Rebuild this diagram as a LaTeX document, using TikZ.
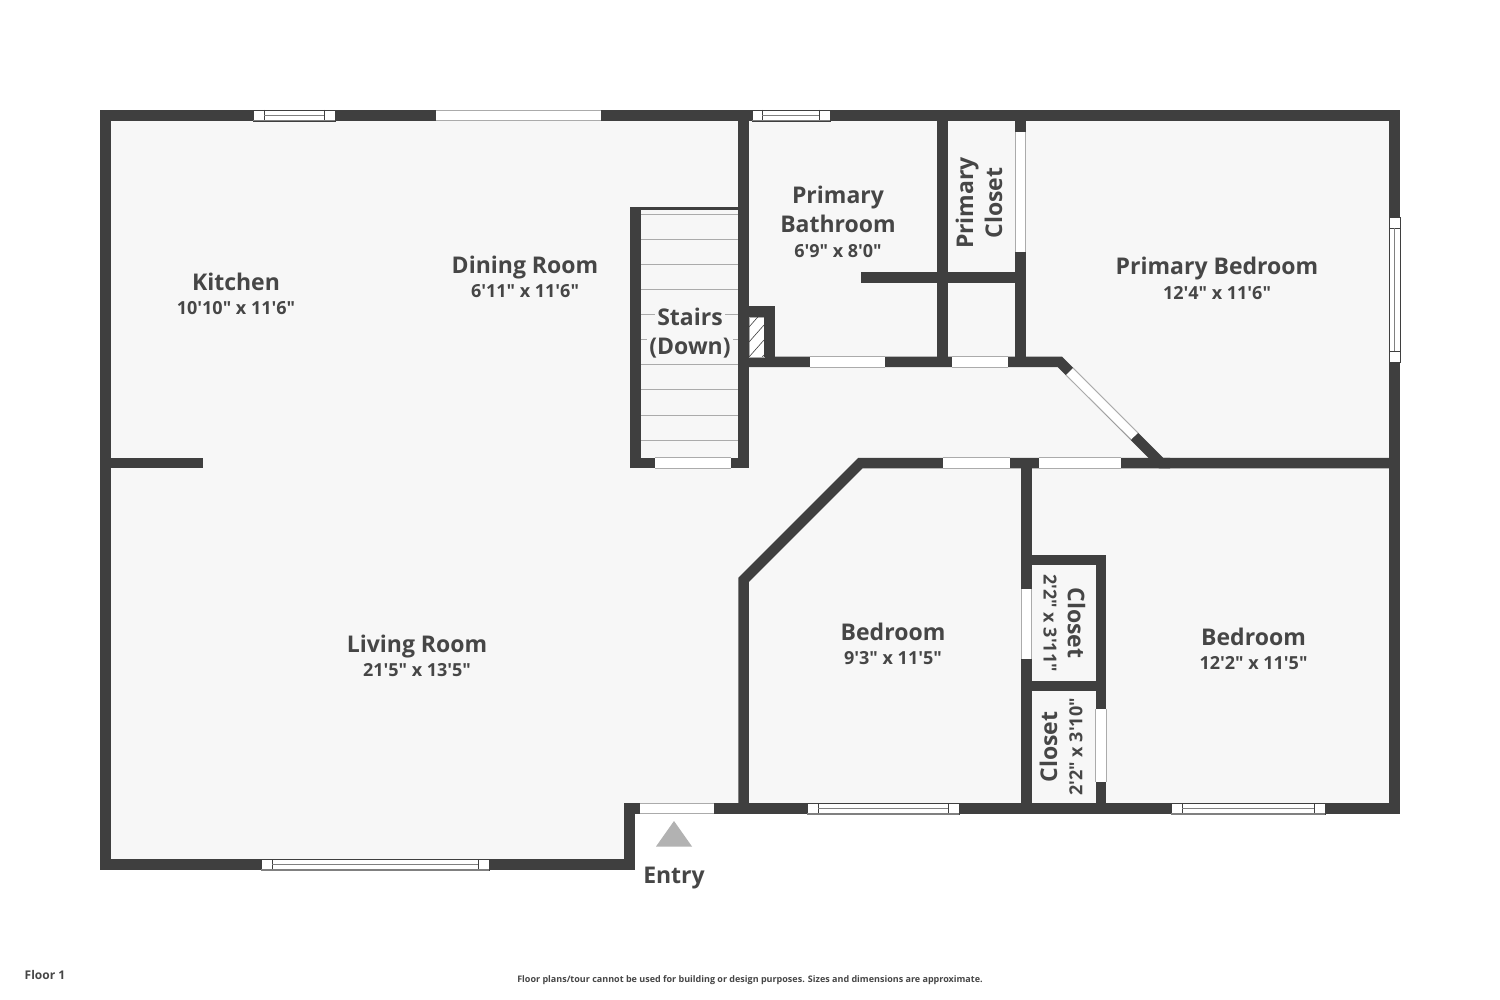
\documentclass[tikz,border=0pt]{standalone}
\usepackage{fontspec}
\newfontfamily\osans{Open Sans}
\definecolor{wallc}{HTML}{3F3F3F}
\definecolor{floorc}{HTML}{F7F7F7}
\definecolor{inkc}{HTML}{464646}
\definecolor{thinc}{HTML}{ABABAB}
\tikzset{
  wallline/.style={draw=wallc,line width=5.25pt,line join=miter,line cap=butt},
  opening/.style={fill=white,draw=none},
  openedge/.style={draw=thinc,line width=0.4pt},
  winframe/.style={draw=wallc,line width=0.45pt},
  winmid/.style={draw=gray,line width=0.5pt},
  roomname/.style={font=\osans\fontsize{11.5}{14}\selectfont\bfseries,text=inkc,inner sep=0pt,text height=8.2pt,text depth=0pt},
  roomsize/.style={font=\osans\fontsize{9}{11}\selectfont\bfseries,text=inkc,inner sep=0pt,text height=6.4pt,text depth=0pt},
  stairtread/.style={draw=thinc,line width=0.5pt},
}
\newcommand{\hdoor}[3]{% x1,x2,ycentre
  \fill[opening] (#1,#3-5.5) rectangle (#2,#3+5.5);
  \draw[openedge] (#1,#3+5.2) -- (#2,#3+5.2);
  \draw[openedge] (#1,#3-5.2) -- (#2,#3-5.2);}
\newcommand{\vdoor}[3]{% y1,y2,xcentre
  \fill[opening] (#3-5.5,#1) rectangle (#3+5.5,#2);
  \draw[openedge] (#3+5.2,#1) -- (#3+5.2,#2);
  \draw[openedge] (#3-5.2,#1) -- (#3-5.2,#2);}
\newcommand{\hwin}[5]{% x1,x2,xi1,xi2,ycentre
  \fill[opening] (#1,#5-5.5) rectangle (#2,#5+5.5);
  \draw[winframe] (#1,#5-5.5) rectangle (#2,#5+5.5);
  \draw[winframe] (#3,#5-5.5) -- (#3,#5+5.5) (#4,#5-5.5) -- (#4,#5+5.5);
  \draw[winmid] (#3,#5) -- (#4,#5);
  \draw[winmid,line width=0.8pt] (#1,#5+5.2) -- (#2,#5+5.2);}
\begin{document}
\begin{tikzpicture}[x=0.5pt,y=-0.5pt]
\useasboundingbox (0,0) rectangle (1500,1000);
\fill[white] (0,0) rectangle (1500,1000);
% floor
\fill[floorc] (105,115) -- (1395,115) -- (1395,809) -- (630,809) -- (630,865) -- (105,865) -- cycle;
% stair treads
\foreach \ty in {215,240,265,290,315,340,365,390,415,440}
  \draw[stairtread] (641,\ty) -- (739,\ty);
% outer walls
\draw[wallline] (105.5,115.5) -- (1394.5,115.5) -- (1394.5,808.5) -- (629.5,808.5) -- (629.5,864.5) -- (105.5,864.5) -- cycle;
% inner walls
\draw[wallline] (743.5,115) -- (743.5,468);
\draw[wallline] (635.5,468) -- (635.5,207);
\draw[draw=wallc,line width=1.5pt] (630,208.5) -- (739,208.5);
\draw[wallline] (630,463) -- (744,463);
\draw[wallline] (942.5,115) -- (942.5,367);
\draw[wallline] (861,277.5) -- (1026,277.5);
\draw[wallline] (1020.5,115) -- (1020.5,367);
\draw[wallline] (744,362) -- (1060,362) -- (1161,463) -- (1395,463);
\draw[wallline] (105,463) -- (203,463);
\draw[wallline] (1170,463) -- (860.5,463) -- (743.5,580) -- (743.5,809);
\draw[wallline] (1026.5,463) -- (1026.5,809);
\draw[wallline] (1026,560) -- (1101,560) -- (1101,809);
\draw[wallline] (1026,686) -- (1101,686);
% chimney
\fill[white] (749,317) rectangle (764,357);
\draw[thinc,line width=0.3pt] (749,317) rectangle (764,357);
\begin{scope}
  \clip (749,317) rectangle (764,357);
  \foreach \hy in {327,342,357,372}
    \draw[wallc,line width=0.3pt] (749,\hy) -- (764,\hy-17);
\end{scope}
\draw[wallline] (749,311.5) -- (769.5,311.5) -- (769.5,357);
% diagonal door
\fill[opening] (1073,368) -- (1138,433) -- (1131,439.5) -- (1066,375) -- cycle;
\draw[openedge] (1073,368) -- (1138,433) (1131,439.5) -- (1066,375);
% doors
\hdoor{655}{731}{463}
\hdoor{810}{885}{362}
\hdoor{952}{1008}{362}
\vdoor{132}{252}{1020.5}
\hdoor{943}{1010}{463}
\hdoor{1039}{1121}{463}
\vdoor{589}{659}{1026.5}
\vdoor{709}{782}{1101}
\hdoor{640}{714}{808.5}
\hdoor{436}{601}{115.5}
% windows
\hwin{253}{335}{264}{324}{115.5}
\hwin{752}{830}{762}{819}{115.5}
\hwin{807}{959}{818}{948}{808.5}
\hwin{1171}{1325}{1182}{1314}{808.5}
\hwin{261}{489}{272}{478}{864.5}
\fill[opening] (1389,217) rectangle (1400,362);
\draw[winframe] (1389,217) rectangle (1400,362);
\draw[winframe] (1389,228) -- (1400,228) (1389,351) -- (1400,351);
\draw[winmid] (1394.5,228) -- (1394.5,351);
% entry arrow
\fill[fill=black!30] (674,821) -- (692,846.5) -- (656,846.5) -- cycle;
% labels
\node[roomname] (kitchen) at (236,282) {Kitchen};
\node[roomsize] (kitchens) at (236,308.5) {10'10" x 11'6"};
\node[roomname] (dining) at (525,265) {Dining Room};
\node[roomsize] (dinings) at (525,291.5) {6'11" x 11'6"};
\node[roomname] (pbath1) at (838,195) {Primary};
\node[roomname] (pbath2) at (838,224) {Bathroom};
\node[roomsize] (pbaths) at (838,251) {6'9" x 8'0"};
\node[roomname,rotate=90] (pcl1) at (965,203) {Primary};
\node[roomname,rotate=90] (pcl2) at (994,203) {Closet};
\node[roomname,fill=floorc,inner sep=1pt] (st1) at (690,317) {Stairs};
\node[roomname,fill=floorc,inner sep=1pt] (st2) at (690,346.5) {(Down)};
\node[roomname] (pbed) at (1217,266.5) {Primary Bedroom};
\node[roomsize] (pbeds) at (1217,293) {12'4" x 11'6"};
\node[roomname] (living) at (417,644) {Living Room};
\node[roomsize] (livings) at (417,670.5) {21'5" x 13'5"};
\node[roomname] (bed1) at (893,632) {Bedroom};
\node[roomsize] (bed1s) at (893,658) {9'3" x 11'5"};
\node[roomname] (bed2) at (1253.5,637) {Bedroom};
\node[roomsize] (bed2s) at (1253.5,663) {12'2" x 11'5"};
\node[roomname,rotate=-90] (cl1) at (1076,623) {Closet};
\node[roomsize,rotate=-90] (cl1s) at (1050,623) {2'2" x 3'11"};
\node[roomname,rotate=90] (cl2) at (1049,747) {Closet};
\node[roomsize,rotate=90] (cl2s) at (1076,747) {2'2" x 3'10"};
\node[roomname] (entry) at (674,875) {Entry};
\node[font=\osans\fontsize{6}{7}\selectfont\bfseries,text=inkc,inner sep=0pt] (floor) at (45,975) {Floor 1};
\node[font=\osans\fontsize{4.5}{6}\selectfont\bfseries,text=inkc,inner sep=0pt] (note) at (750,980) {Floor plans/tour cannot be used for building or design purposes. Sizes and dimensions are approximate.};
\end{tikzpicture}
\end{document}
